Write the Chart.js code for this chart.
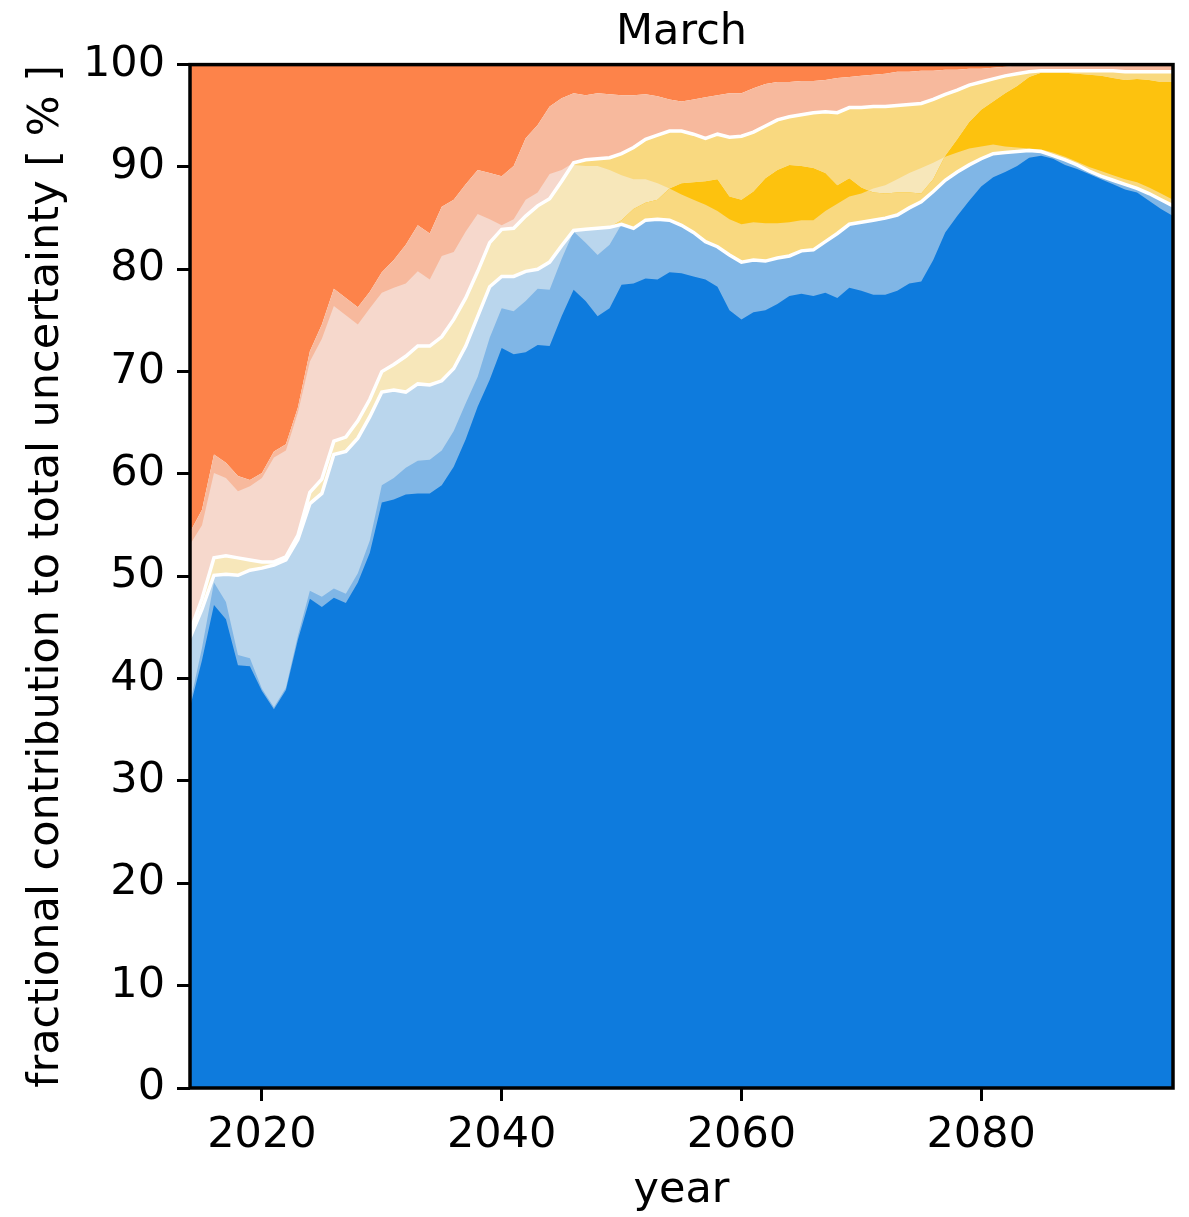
<!DOCTYPE html>
<html>
<head>
<meta charset="utf-8">
<title>March</title>
<script src="https://cdn.jsdelivr.net/npm/chart.js@4.4.1/dist/chart.umd.min.js"></script>
<style>
  html, body { margin: 0; padding: 0; background: #fff; }
  #wrap { width: 1189px; height: 1217px; }
</style>
</head>
<body>
<div id="wrap"><canvas id="chart" width="1189" height="1217"></canvas></div>
<script>
const years = [];
for (let yr = 2014; yr <= 2096; yr++) years.push(yr);

const xTicks = [2020, 2040, 2060, 2080];
const yTicks = [0, 10, 20, 30, 40, 50, 60, 70, 80, 90, 100];

// top of the dark blue band
const blueDark = [37.2,41.8,47.2,45.8,41.3,41.2,38.8,37.0,38.9,43.8,
    47.8,47.0,47.9,47.4,49.4,52.3,57.2,57.5,58.0,58.1,
    58.1,58.9,60.7,63.4,66.6,69.2,72.3,71.7,71.9,72.6,
    72.5,75.4,78.0,76.9,75.4,76.2,78.5,78.6,79.1,79.0,
    79.7,79.6,79.3,79.0,78.3,76.0,75.1,75.8,76.0,76.6,
    77.4,77.6,77.4,77.7,77.2,78.2,77.9,77.5,77.5,77.9,
    78.6,78.8,80.9,83.6,85.2,86.7,88.1,89.0,89.5,90.1,
    90.9,91.1,90.8,90.2,89.8,89.3,88.8,88.3,87.8,87.5,
    86.7,85.9,85.2];

// top of the medium blue band
const blueMid = [37.6,43.0,49.4,47.5,42.3,42.0,39.0,37.2,39.1,44.2,
    48.6,48.0,48.8,48.3,50.3,53.5,58.9,59.6,60.6,61.3,
    61.4,62.3,64.2,66.9,69.5,73.3,76.2,75.9,76.9,78.1,
    78.0,81.0,83.7,82.6,81.4,82.4,84.4,84.0,84.8,84.9,
    84.8,84.3,83.6,82.7,82.2,81.4,80.7,80.9,80.8,81.1,
    81.3,81.8,81.9,82.7,83.5,84.4,84.6,84.8,85.0,85.3,
    86.0,86.6,87.6,88.7,89.5,90.2,90.8,91.3,91.4,91.5,
    91.6,91.5,91.1,90.7,90.2,89.6,89.1,88.7,88.3,87.9,
    87.4,86.8,86.2];

// first white line (model share)
const modelLine = [44.0,46.8,50.1,50.2,50.1,50.6,50.8,51.1,51.6,53.6,
    57.1,58.1,61.9,62.2,63.5,65.6,68.0,68.2,68.0,68.8,
    68.7,69.1,70.3,72.5,75.4,78.3,79.3,79.3,79.8,80.0,
    80.7,82.3,83.8,83.9,84.0,84.1,84.4,84.0,84.8,84.9,
    84.8,84.3,83.6,82.7,82.2,81.4,80.7,80.9,80.8,81.1,
    81.3,81.8,81.9,82.7,83.5,84.4,84.6,84.8,85.0,85.3,
    86.0,86.6,87.6,88.7,89.5,90.2,90.8,91.3,91.4,91.5,
    91.6,91.5,91.1,90.7,90.2,89.6,89.1,88.7,88.3,87.9,
    87.4,86.8,86.2];

// two yellow edges that cross each other
const yellowA = [44.6,47.8,51.8,52.0,51.8,51.6,51.4,51.4,51.9,54.0,
    58.2,59.5,63.2,63.6,65.2,67.3,70.0,70.7,71.5,72.5,
    72.5,73.4,75.1,77.2,79.8,82.6,83.9,84.0,85.2,86.2,
    86.9,88.6,90.2,90.1,90.1,89.7,89.2,88.8,88.8,88.4,
    87.9,87.3,86.8,86.3,85.7,84.9,84.4,84.6,84.5,84.5,
    84.6,84.8,84.8,85.7,86.4,87.1,87.4,87.9,88.2,88.8,
    89.4,89.9,90.4,91.0,91.4,91.8,92.0,92.2,92.0,91.9,
    91.8,91.7,91.4,91.0,90.5,90.0,89.6,89.2,88.8,88.5,
    88.0,87.4,86.8];

const yellowB = [44.0,46.8,50.1,50.2,50.1,50.6,50.8,51.1,51.6,53.6,
    57.1,58.1,61.9,62.2,63.5,65.6,68.0,68.2,68.0,68.8,
    68.7,69.1,70.3,72.5,75.4,78.3,79.3,79.3,79.8,80.0,
    80.7,82.3,83.8,83.9,84.0,84.1,84.8,85.9,86.5,86.8,
    87.9,88.4,88.5,88.6,88.8,87.1,86.8,87.6,88.9,89.7,
    90.2,90.1,89.9,89.4,88.2,88.9,88.0,87.5,87.4,87.5,
    87.5,87.4,88.8,91.1,92.7,94.4,95.6,96.4,97.2,97.9,
    98.8,99.2,99.2,99.2,99.1,99.0,98.9,98.7,98.5,98.6,
    98.5,98.3,98.3];

// second white line (model + scenario share)
const scenarioLine = [44.6,47.8,51.8,52.0,51.8,51.6,51.4,51.4,51.9,54.0,
    58.2,59.5,63.2,63.6,65.2,67.3,70.0,70.7,71.5,72.5,
    72.5,73.4,75.1,77.2,79.8,82.6,83.9,84.0,85.2,86.2,
    86.9,88.6,90.4,90.7,90.8,90.9,91.3,91.9,92.7,93.1,
    93.5,93.5,93.2,92.8,93.2,92.9,93.0,93.4,94.0,94.6,
    94.9,95.1,95.3,95.4,95.3,95.8,95.8,95.9,95.9,96.0,
    96.1,96.2,96.6,97.1,97.5,98.0,98.3,98.6,98.9,99.1,
    99.3,99.4,99.4,99.4,99.4,99.4,99.4,99.4,99.3,99.3,
    99.3,99.3,99.3];

// top of the light pink band
const orangeLight = [53.1,55.0,60.1,59.6,58.3,58.8,59.6,61.6,62.3,66.0,
    71.0,73.2,76.4,75.5,74.6,76.2,77.7,78.2,78.6,79.8,
    79.0,81.3,81.7,83.7,85.4,84.9,84.3,84.9,86.8,87.5,
    89.3,89.7,90.4,90.7,90.8,90.9,91.3,91.9,92.7,93.1,
    93.5,93.5,93.2,92.8,93.2,92.9,93.0,93.4,94.0,94.6,
    94.9,95.1,95.3,95.4,95.3,95.8,95.8,95.9,95.9,96.0,
    96.1,96.2,96.6,97.1,97.5,98.0,98.3,98.6,98.9,99.1,
    99.3,99.4,99.4,99.4,99.4,99.4,99.4,99.4,99.3,99.3,
    99.3,99.3,99.3];

// top of the salmon band, orange above
const orangeMid = [54.3,56.5,61.9,61.1,59.8,59.4,60.1,62.2,62.9,66.5,
    72.0,74.6,78.1,77.2,76.3,77.8,79.7,80.9,82.4,84.3,
    83.5,86.1,86.8,88.3,89.7,89.4,89.1,90.1,92.8,94.1,
    95.9,96.7,97.2,97.0,97.2,97.1,97.0,97.0,97.1,96.9,
    96.6,96.4,96.6,96.8,97.0,97.2,97.2,97.7,98.1,98.3,
    98.3,98.4,98.4,98.5,98.7,98.8,98.9,99.0,99.1,99.3,
    99.3,99.4,99.4,99.5,99.5,99.6,99.6,99.7,99.8,99.9,
    100,100,100,100,100,100,100,100,100,100,
    100,100,100];

const colors = {
    blueDark: '#0e7bdd',
    blueMid: '#80b6e6',
    blueLight: '#bad6ed',
    yellowLight: '#f7e7ba',
    yellowMid: '#f9d980',
    yellowDark: '#fdc20e',
    pink: '#f6d8cc',
    salmon: '#f7b99d',
    orange: '#fd834a'
};

const toPoints = (arr) => years.map((yr, i) => ({ x: yr, y: arr[i] }));

function band(label, arr, fill, color, white) {
    return {
        label: label,
        data: toPoints(arr),
        fill: fill,
        backgroundColor: color,
        borderColor: white ? '#ffffff' : 'rgba(0,0,0,0)',
        borderWidth: white ? 3.5 : 0,
        pointRadius: 0,
        pointHoverRadius: 0,
        tension: 0
    };
}

// painted from the last dataset to the first, each fill going down to the axis
const datasets = [
    band('blue dark', blueDark, 'start', colors.blueDark, false),
    band('blue mid', blueMid, 'start', colors.blueMid, false),
    band('model', modelLine, 'start', colors.blueLight, true),
    band('yellow a', yellowA, { target: 4, above: colors.yellowLight, below: colors.yellowDark }, colors.yellowLight, false),
    band('yellow b', yellowB, false, 'rgba(0,0,0,0)', false),
    band('scenario', scenarioLine, 'start', colors.yellowMid, true),
    band('orange light', orangeLight, 'start', colors.pink, false),
    band('orange mid', orangeMid, 'start', colors.salmon, false),
    band('orange', orangeMid, 'end', colors.orange, false)
];

const frame = {
    id: 'frame',
    afterDatasetsDraw(chart) {
        const { ctx, chartArea: a } = chart;
        ctx.save();
        ctx.strokeStyle = '#000';
        ctx.lineWidth = 3.5;
        ctx.strokeRect(a.left, a.top, a.right - a.left, a.bottom - a.top);
        ctx.restore();
    }
};

Chart.defaults.font.family = "'DejaVu Sans', sans-serif";
Chart.defaults.font.size = 43;
Chart.defaults.color = '#000';

new Chart(document.getElementById('chart'), {
    type: 'line',
    data: { datasets: datasets },
    options: {
        responsive: false,
        animation: false,
        devicePixelRatio: 1,
        layout: { padding: { left: 0, right: 16, top: 0, bottom: 0 } },
        plugins: {
            legend: { display: false },
            tooltip: { enabled: false },
            filler: { drawTime: 'beforeDatasetsDraw', propagate: false },
            title: {
                display: true,
                text: 'March',
                fullSize: false,
                color: '#000',
                padding: { top: 7, bottom: 6 },
                font: { size: 43, weight: 'normal', lineHeight: 1.2 }
            }
        },
        scales: {
            x: {
                type: 'linear',
                min: 2014,
                max: 2096,
                afterBuildTicks: (s) => { s.ticks = xTicks.map((v) => ({ value: v })); },
                afterFit: (s) => { s.height = 129; },
                ticks: { padding: 9, maxRotation: 0, autoSkip: false, callback: (v) => String(v) },
                grid: { drawOnChartArea: false, tickLength: 13, tickWidth: 3, tickColor: '#000' },
                border: { display: false },
                title: { display: true, text: 'year', padding: { top: 0, bottom: 0 } }
            },
            y: {
                min: 0,
                max: 100,
                afterBuildTicks: (s) => { s.ticks = yTicks.map((v) => ({ value: v })); },
                afterFit: (s) => { s.width = 190; },
                ticks: { padding: 12, autoSkip: false },
                grid: { drawOnChartArea: false, tickLength: 13, tickWidth: 3, tickColor: '#000' },
                border: { display: false },
                title: {
                    display: true,
                    text: 'fractional contribution to total uncertainty [ % ]',
                    padding: { top: 21, bottom: 0 }
                }
            }
        }
    },
    plugins: [frame]
});
</script>
</body>
</html>
